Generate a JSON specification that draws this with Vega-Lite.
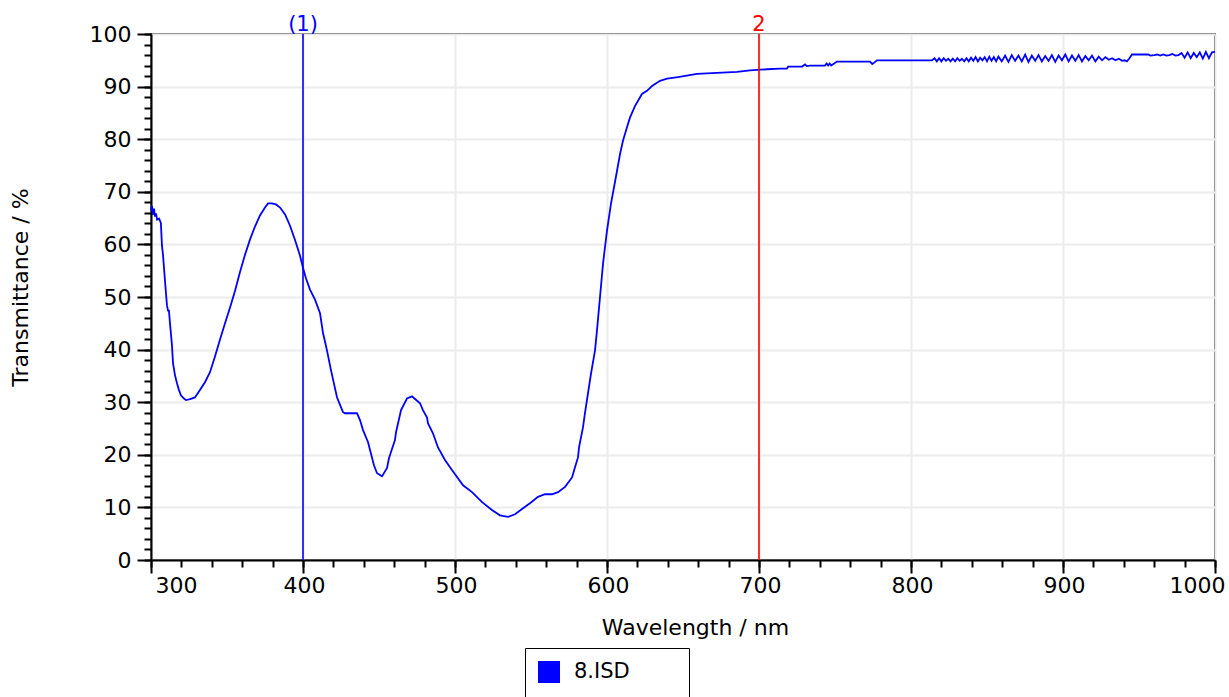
{
  "$schema": "https://vega.github.io/schema/vega-lite/v6.json",
  "width": 1064,
  "height": 526,
  "autosize": "none",
  "padding": {"left": 151, "top": 34, "right": 14, "bottom": 137},
  "background": "white",
  "config": {
    "view": {"stroke": "black", "strokeWidth": 1.5},
    "font": "DejaVu Sans",
    "axis": {
      "labelFont": "DejaVu Sans",
      "titleFont": "DejaVu Sans",
      "labelFontSize": 22,
      "titleFontSize": 22,
      "titleFontWeight": "normal",
      "labelColor": "black",
      "titleColor": "black",
      "domainColor": "black",
      "domainWidth": 2,
      "tickColor": "black",
      "tickWidth": 2,
      "gridColor": "#ececec",
      "gridWidth": 2
    }
  },
  "datasets": {
    "spectrum": [
      {"nm": 300.0, "T": 66.5}, {"nm": 300.7, "T": 67.3}, {"nm": 301.3, "T": 65.6}, {"nm": 302.0, "T": 66.8},
      {"nm": 302.6, "T": 65.3}, {"nm": 303.3, "T": 65.9}, {"nm": 304.0, "T": 64.7}, {"nm": 305.3, "T": 64.9},
      {"nm": 306.5, "T": 64.1}, {"nm": 307.2, "T": 59.8}, {"nm": 307.9, "T": 58.0}, {"nm": 309.2, "T": 53.1},
      {"nm": 310.5, "T": 48.4}, {"nm": 311.2, "T": 47.4}, {"nm": 311.8, "T": 47.4}, {"nm": 312.5, "T": 45.0},
      {"nm": 313.8, "T": 40.8}, {"nm": 314.5, "T": 37.4}, {"nm": 315.8, "T": 35.1}, {"nm": 317.1, "T": 33.6},
      {"nm": 318.4, "T": 32.3}, {"nm": 319.7, "T": 31.3}, {"nm": 321.7, "T": 30.7}, {"nm": 323.0, "T": 30.4},
      {"nm": 325.7, "T": 30.6}, {"nm": 328.9, "T": 30.9}, {"nm": 332.2, "T": 32.3}, {"nm": 335.5, "T": 33.8},
      {"nm": 338.8, "T": 35.7}, {"nm": 342.1, "T": 38.7}, {"nm": 345.4, "T": 41.9}, {"nm": 348.7, "T": 45.0},
      {"nm": 352.0, "T": 48.0}, {"nm": 355.3, "T": 51.2}, {"nm": 358.6, "T": 54.8}, {"nm": 361.8, "T": 58.0},
      {"nm": 365.1, "T": 60.9}, {"nm": 368.4, "T": 63.4}, {"nm": 371.7, "T": 65.5}, {"nm": 375.0, "T": 67.0},
      {"nm": 377.0, "T": 67.8}, {"nm": 379.6, "T": 67.8}, {"nm": 382.2, "T": 67.6}, {"nm": 384.9, "T": 67.0},
      {"nm": 388.2, "T": 65.7}, {"nm": 391.4, "T": 63.6}, {"nm": 394.7, "T": 60.9}, {"nm": 398.0, "T": 57.9},
      {"nm": 400.0, "T": 55.5}, {"nm": 402.0, "T": 53.5}, {"nm": 404.6, "T": 51.4}, {"nm": 407.9, "T": 49.5},
      {"nm": 411.2, "T": 46.9}, {"nm": 413.2, "T": 43.1}, {"nm": 414.5, "T": 41.5}, {"nm": 415.8, "T": 39.8},
      {"nm": 418.4, "T": 36.1}, {"nm": 422.4, "T": 30.9}, {"nm": 426.3, "T": 28.1}, {"nm": 427.6, "T": 27.9},
      {"nm": 435.5, "T": 27.9}, {"nm": 437.5, "T": 26.6}, {"nm": 439.5, "T": 24.7}, {"nm": 442.8, "T": 22.4},
      {"nm": 444.1, "T": 20.9}, {"nm": 446.7, "T": 18.0}, {"nm": 448.7, "T": 16.5}, {"nm": 452.0, "T": 15.9},
      {"nm": 455.3, "T": 17.5}, {"nm": 456.6, "T": 19.4}, {"nm": 460.5, "T": 22.8}, {"nm": 461.2, "T": 24.3},
      {"nm": 464.5, "T": 28.5}, {"nm": 468.4, "T": 30.7}, {"nm": 471.7, "T": 31.1}, {"nm": 473.7, "T": 30.6},
      {"nm": 477.0, "T": 29.8}, {"nm": 478.9, "T": 28.5}, {"nm": 481.6, "T": 27.1}, {"nm": 482.2, "T": 26.0},
      {"nm": 485.5, "T": 24.1}, {"nm": 488.8, "T": 21.4}, {"nm": 493.4, "T": 19.0}, {"nm": 498.0, "T": 17.1},
      {"nm": 505.3, "T": 14.2}, {"nm": 511.2, "T": 12.9}, {"nm": 517.8, "T": 11.0}, {"nm": 524.3, "T": 9.5},
      {"nm": 529.6, "T": 8.5}, {"nm": 534.9, "T": 8.2}, {"nm": 539.5, "T": 8.7}, {"nm": 544.1, "T": 9.7},
      {"nm": 549.3, "T": 10.8}, {"nm": 554.6, "T": 12.0}, {"nm": 559.2, "T": 12.5}, {"nm": 563.8, "T": 12.5},
      {"nm": 567.8, "T": 12.9}, {"nm": 572.4, "T": 13.9}, {"nm": 577.0, "T": 15.7}, {"nm": 578.9, "T": 17.6},
      {"nm": 580.9, "T": 19.5}, {"nm": 581.6, "T": 21.4}, {"nm": 584.2, "T": 25.2}, {"nm": 585.5, "T": 27.9},
      {"nm": 587.5, "T": 31.7}, {"nm": 589.5, "T": 35.5}, {"nm": 592.1, "T": 39.8}, {"nm": 593.4, "T": 43.6},
      {"nm": 595.4, "T": 50.0}, {"nm": 597.4, "T": 56.4}, {"nm": 600.0, "T": 62.6}, {"nm": 602.6, "T": 67.7},
      {"nm": 606.6, "T": 74.0}, {"nm": 608.6, "T": 77.2}, {"nm": 610.5, "T": 79.7}, {"nm": 613.8, "T": 82.9},
      {"nm": 615.1, "T": 84.1}, {"nm": 618.4, "T": 86.3}, {"nm": 623.0, "T": 88.6}, {"nm": 626.3, "T": 89.2},
      {"nm": 629.6, "T": 90.1}, {"nm": 634.9, "T": 91.1}, {"nm": 639.5, "T": 91.5}, {"nm": 646.7, "T": 91.8},
      {"nm": 659.2, "T": 92.4}, {"nm": 672.4, "T": 92.6}, {"nm": 685.5, "T": 92.8}, {"nm": 694.1, "T": 93.1},
      {"nm": 705.3, "T": 93.3}, {"nm": 713.8, "T": 93.4}, {"nm": 718.4, "T": 93.4}, {"nm": 719.1, "T": 93.8},
      {"nm": 728.3, "T": 93.8}, {"nm": 730.3, "T": 94.2}, {"nm": 731.5, "T": 93.9}, {"nm": 733.6, "T": 94.0},
      {"nm": 743.4, "T": 94.0}, {"nm": 744.5, "T": 94.4}, {"nm": 745.5, "T": 94.0}, {"nm": 746.5, "T": 94.4},
      {"nm": 747.5, "T": 94.0}, {"nm": 751.3, "T": 94.75}, {"nm": 773.0, "T": 94.75}, {"nm": 774.5, "T": 94.3},
      {"nm": 776.0, "T": 94.6}, {"nm": 777.6, "T": 95.0}, {"nm": 813.8, "T": 95.0},
      {"nm": 815.5, "T": 95.4}, {"nm": 817.0, "T": 94.8}, {"nm": 818.5, "T": 95.4}, {"nm": 820.0, "T": 94.8},
      {"nm": 821.5, "T": 95.4}, {"nm": 823.0, "T": 94.9}, {"nm": 824.5, "T": 95.3}, {"nm": 826.0, "T": 94.8},
      {"nm": 827.5, "T": 95.3}, {"nm": 829.0, "T": 94.8}, {"nm": 830.5, "T": 95.4}, {"nm": 832.0, "T": 94.9},
      {"nm": 833.5, "T": 95.3}, {"nm": 835.0, "T": 94.8}, {"nm": 836.5, "T": 95.4}, {"nm": 838.0, "T": 94.8},
      {"nm": 839.5, "T": 95.5}, {"nm": 841.0, "T": 94.9}, {"nm": 842.5, "T": 95.6}, {"nm": 844.0, "T": 94.8},
      {"nm": 845.5, "T": 95.5}, {"nm": 847.0, "T": 95.0}, {"nm": 848.5, "T": 95.6}, {"nm": 850.0, "T": 94.8},
      {"nm": 851.5, "T": 95.7}, {"nm": 853.0, "T": 94.9}, {"nm": 854.5, "T": 95.6}, {"nm": 856.0, "T": 94.8},
      {"nm": 857.5, "T": 95.7}, {"nm": 859.7, "T": 94.8}, {"nm": 861.9, "T": 95.9}, {"nm": 864.1, "T": 94.7},
      {"nm": 866.3, "T": 96.0}, {"nm": 868.5, "T": 94.9}, {"nm": 870.7, "T": 95.9}, {"nm": 872.9, "T": 94.8},
      {"nm": 875.1, "T": 96.1}, {"nm": 877.3, "T": 94.7}, {"nm": 879.5, "T": 95.9}, {"nm": 881.7, "T": 94.9},
      {"nm": 883.9, "T": 96.0}, {"nm": 886.1, "T": 94.8}, {"nm": 888.3, "T": 95.8}, {"nm": 890.5, "T": 94.9},
      {"nm": 892.7, "T": 96.0}, {"nm": 894.9, "T": 94.7}, {"nm": 897.1, "T": 95.9}, {"nm": 899.3, "T": 95.0},
      {"nm": 901.5, "T": 96.1}, {"nm": 903.7, "T": 94.8}, {"nm": 905.9, "T": 95.9}, {"nm": 908.1, "T": 94.9},
      {"nm": 910.3, "T": 96.0}, {"nm": 912.5, "T": 94.8}, {"nm": 914.7, "T": 95.8}, {"nm": 916.9, "T": 95.0},
      {"nm": 919.1, "T": 95.9}, {"nm": 921.3, "T": 94.8}, {"nm": 923.5, "T": 95.7}, {"nm": 925.7, "T": 95.0},
      {"nm": 927.9, "T": 95.6}, {"nm": 930.1, "T": 95.1}, {"nm": 932.3, "T": 95.4}, {"nm": 934.5, "T": 95.0},
      {"nm": 936.7, "T": 95.3}, {"nm": 938.9, "T": 94.9}, {"nm": 940.5, "T": 95.0}, {"nm": 942.0, "T": 94.8},
      {"nm": 943.5, "T": 95.3}, {"nm": 945.4, "T": 96.1}, {"nm": 956.0, "T": 96.1}, {"nm": 957.5, "T": 95.9},
      {"nm": 960.0, "T": 96.0}, {"nm": 962.0, "T": 96.1}, {"nm": 964.0, "T": 95.9}, {"nm": 966.0, "T": 96.1},
      {"nm": 968.0, "T": 95.9}, {"nm": 970.0, "T": 96.0}, {"nm": 972.0, "T": 96.2}, {"nm": 974.0, "T": 95.9},
      {"nm": 976.0, "T": 96.0}, {"nm": 978.0, "T": 96.4}, {"nm": 980.0, "T": 95.5}, {"nm": 982.0, "T": 96.5},
      {"nm": 984.0, "T": 95.4}, {"nm": 986.0, "T": 96.4}, {"nm": 988.0, "T": 95.6}, {"nm": 990.0, "T": 96.5},
      {"nm": 992.0, "T": 95.3}, {"nm": 994.0, "T": 96.6}, {"nm": 996.0, "T": 95.4}, {"nm": 998.0, "T": 96.5},
      {"nm": 1000.0, "T": 96.6}
    ],
    "markers": [
      {"nm": 400, "label": "(1)"},
      {"nm": 700, "label": "2"}
    ]
  },
  "layer": [
    {
      "data": {"name": "spectrum"},
      "mark": {"type": "line", "strokeWidth": 1.8, "interpolate": "linear"},
      "encoding": {
        "x": {
          "field": "nm", "type": "quantitative",
          "scale": {"domain": [300, 1000], "nice": false, "zero": false},
          "axis": {
            "orient": "bottom",
            "values": [300, 400, 500, 600, 700, 800, 900, 1000],
            "format": "d",
            "title": "Wavelength / nm",
            "tickSize": 13, "labelPadding": 2, "labelFlush": false,
            "labelOffset": {"condition": [{"test": "datum.value <= 300", "value": 25}, {"test": "datum.value >= 1000", "value": -18}], "value": 1},
            "grid": true, "titlePadding": 21, "titleX": 544
          }
        },
        "y": {
          "field": "T", "type": "quantitative",
          "scale": {"domain": [0, 100], "nice": false},
          "axis": {
            "orient": "left",
            "values": [0, 10, 20, 30, 40, 50, 60, 70, 80, 90, 100],
            "title": "Transmittance / %",
            "tickSize": 14, "labelPadding": 6, "grid": true, "titlePadding": 57, "titleY": 253
          }
        },
        "color": {
          "datum": "8.ISD", "type": "nominal",
          "scale": {"range": ["#0000ff"]},
          "legend": {
            "title": null, "orient": "none", "legendX": 374, "legendY": 614,
            "strokeColor": "black", "padding": 13,
            "symbolType": "square", "symbolSize": 121, "symbolStrokeWidth": 11,
            "symbolFillColor": "#0000ff", "symbolStrokeColor": "#0000ff",
            "labelFont": "DejaVu Sans", "labelFontSize": 21, "labelColor": "black",
            "labelOffset": 14, "labelExpr": "datum.label + '\u2800\u2800\u2800'"
          }
        }
      }
    },
    {
      "data": {"name": "spectrum"},
      "mark": {"type": "line", "strokeOpacity": 0},
      "encoding": {
        "x": {
          "field": "nm", "type": "quantitative",
          "axis": {
            "orient": "bottom",
            "values": [300, 320, 340, 360, 380, 400, 420, 440, 460, 480, 500, 520, 540, 560, 580, 600, 620, 640, 660, 680, 700, 720, 740, 760, 780, 800, 820, 840, 860, 880, 900, 920, 940, 960, 980, 1000],
            "labels": false, "title": null, "grid": false, "domain": false, "tickSize": 7
          }
        },
        "y": {
          "field": "T", "type": "quantitative",
          "axis": {
            "orient": "left",
            "values": [0, 2, 4, 6, 8, 10, 12, 14, 16, 18, 20, 22, 24, 26, 28, 30, 32, 34, 36, 38, 40, 42, 44, 46, 48, 50, 52, 54, 56, 58, 60, 62, 64, 66, 68, 70, 72, 74, 76, 78, 80, 82, 84, 86, 88, 90, 92, 94, 96, 98, 100],
            "labels": false, "title": null, "grid": false, "domain": false, "tickSize": 7
          }
        }
      }
    },
    {
      "data": {"name": "markers"},
      "mark": {"type": "rule", "strokeWidth": 1.6},
      "encoding": {
        "x": {"field": "nm", "type": "quantitative", "axis": null},
        "color": {
          "field": "label", "type": "nominal",
          "scale": {"domain": ["(1)", "2"], "range": ["#0000ff", "#ff0000"]},
          "legend": null
        }
      }
    },
    {
      "data": {"name": "markers"},
      "mark": {"type": "text", "baseline": "alphabetic", "dy": -3, "fontSize": 21, "font": "DejaVu Sans"},
      "encoding": {
        "x": {"field": "nm", "type": "quantitative", "axis": null},
        "y": {"datum": 100, "type": "quantitative", "axis": null},
        "text": {"field": "label"},
        "color": {
          "field": "label", "type": "nominal",
          "scale": {"domain": ["(1)", "2"], "range": ["#0000ff", "#ff0000"]},
          "legend": null
        }
      }
    }
  ],
  "resolve": {
    "axis": {"x": "independent", "y": "independent"},
    "scale": {"color": "independent"}
  }
}
